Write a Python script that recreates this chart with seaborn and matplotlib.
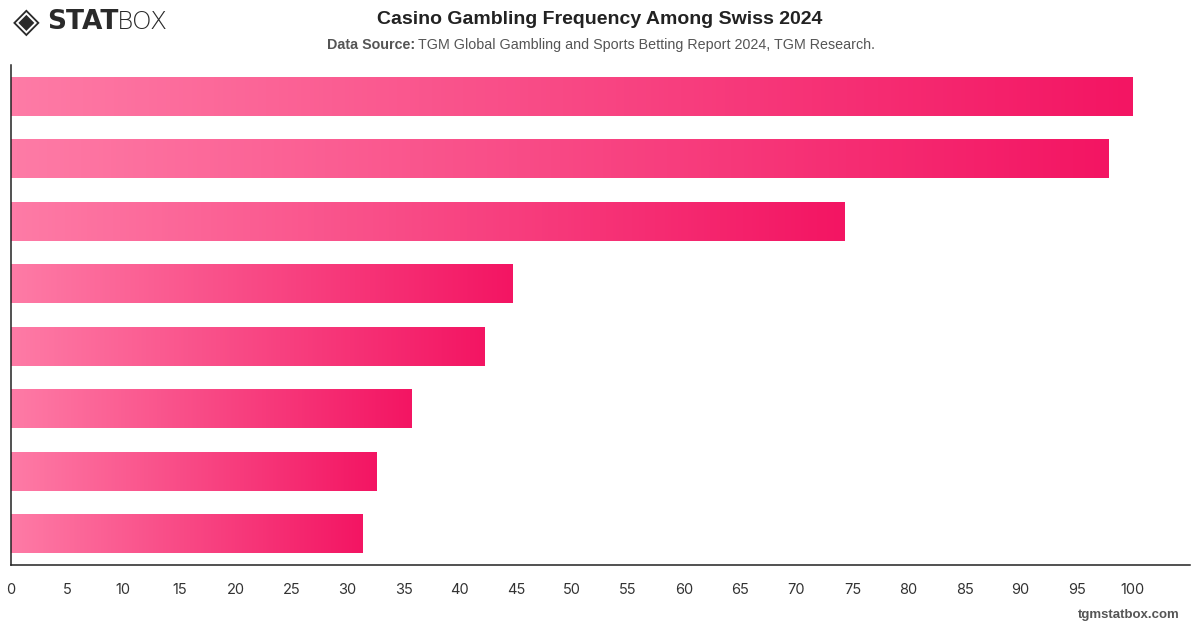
import numpy as np
import pandas as pd
import matplotlib
matplotlib.use("Agg")
import matplotlib.pyplot as plt
import seaborn as sns
from matplotlib.colors import LinearSegmentedColormap

# values (bars have no category labels in the source)
categories = ["Row 1", "Row 2", "Row 3", "Row 4", "Row 5", "Row 6", "Row 7", "Row 8"]
values = [100.0, 97.8, 74.3, 44.7, 42.2, 35.7, 32.6, 31.3]
xticks = list(range(0, 101, 5))

df = pd.DataFrame({"category": categories, "value": values})

sns.set_theme(style="white")
plt.rcParams["font.family"] = ["Inter", "DejaVu Sans"]

fig = plt.figure(figsize=(12, 6.28), dpi=100)
ax = fig.add_axes([0.0092, 0.1003, 0.9825, 0.7962])

sns.barplot(data=df, x="value", y="category", orient="h", width=0.62,
            color="#f7417f", ax=ax)

# per-bar horizontal gradient, light pink -> deep pink
grad_cmap = LinearSegmentedColormap.from_list("pinks", ["#fe7ba6", "#f31563"])
grad = np.linspace(0, 1, 256).reshape(1, -1)
for patch in ax.patches:
    x0, y0 = patch.get_x(), patch.get_y()
    w, h = patch.get_width(), patch.get_height()
    im = ax.imshow(grad, cmap=grad_cmap, aspect="auto",
                   extent=[x0, x0 + w, y0 + h, y0], zorder=2,
                   interpolation="bicubic")
    im.set_clip_path(patch)
    patch.set_facecolor("none")
    patch.set_edgecolor("none")
ax.set_xlim(0, 105.1)
ax.set_ylim(len(categories) - 0.5, -0.5)

ax.set_xticks(xticks)
ax.set_xticklabels([str(t) for t in xticks], fontsize=10.5, color="#333333")
ax.tick_params(axis="x", length=0, pad=13)
ax.set_yticks([])
ax.set_xlabel("")
ax.set_ylabel("")
for side in ["top", "right"]:
    ax.spines[side].set_visible(False)
for side in ["left", "bottom"]:
    ax.spines[side].set_color("#222222")
    ax.spines[side].set_linewidth(1.1)

# title and source
title_font = ["Liberation Sans", "DejaVu Sans"]
fig.text(0.5, 0.969, "Casino Gambling Frequency Among Swiss 2024",
         ha="center", va="center", fontsize=14, fontweight="bold",
         color="#222222", family=title_font)
fig.text(0.2725, 0.929, "Data Source:", ha="left", va="center",
         fontsize=10.3, fontweight="bold", color="#555555", family=title_font)
fig.text(0.3485, 0.929, "TGM Global Gambling and Sports Betting Report 2024, TGM Research.",
         ha="left", va="center", fontsize=10.3, color="#555555", family=title_font)

# logo
fig.text(0.011, 0.965, "\u25c8", ha="left", va="center", fontsize=25,
         color="#2a2a2a", family=["DejaVu Sans"])
fig.text(0.039, 0.965, "STAT", ha="left", va="center", fontsize=19,
         fontweight="bold", color="#2a2a2a", family=["DejaVu Sans"])
fig.text(0.097, 0.965, "BOX", ha="left", va="center", fontsize=18,
         fontweight="light", color="#2a2a2a", family=["DejaVu Sans"])

# footer
fig.text(0.983, 0.02, "tgmstatbox.com", ha="right", va="center", fontsize=9.5,
         fontweight="bold", color="#555555", family=title_font)

fig.savefig("out.png", dpi=100)
